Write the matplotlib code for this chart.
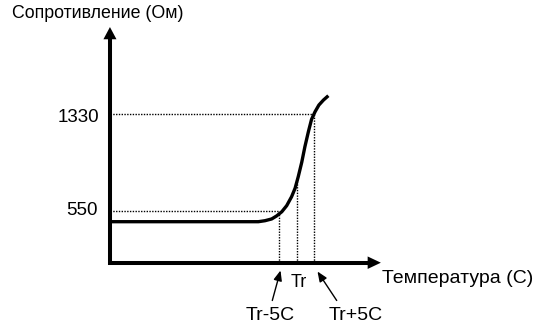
import numpy as np
import matplotlib
matplotlib.use('Agg')
import matplotlib.pyplot as plt

# Curve: temperature relative to Tr (C), resistance (Ohm)
temp = [-53.3, -14.7, -10.9, -9.0, -7.1, -5.7, -4.2, -2.8, -1.4, -0.4,
        0.5, 1.5, 2.4, 3.4, 4.3, 5.3, 6.4, 7.7, 9.1]
resist = [464, 464, 464, 472, 486, 510, 544, 593, 665, 733,
          826, 942, 1067, 1188, 1287, 1348, 1402, 1442, 1477]

# marked levels
r_ticks = [550, 1330]
r_tick_labels = ['550', '1330']
t_marks = [-5, 0, 5]
r_at_marks = [550, 786, 1330]

W, H = 544, 325
plt.rcParams['font.family'] = ['Liberation Sans', 'DejaVu Sans']

fig = plt.figure(figsize=(W / 100, H / 100), dpi=100)
ax = fig.add_axes([0, 0, 1, 1])

# schematic scale: 3.5 px per degree, Tr at x=296.5 px; 550 Ohm at y=211 px, 8.04 Ohm per px
ax.set_xlim(-296.5 / 3.5, (W - 296.5) / 3.5)
ax.set_ylim(550 - (H - 211) * 8.04, 550 + 211 * 8.04)
ax.axis('off')

t0, r0 = -53.3, 134.3      # axis origin
t_end, r_end = 24.1, 2029  # arrow tips

# axes with arrow heads
ax.plot([t0, t0, t_end - 3.0], [r_end - 80, r0, r0], color='k', lw=2.9,
        solid_joinstyle='miter', solid_capstyle='butt')
ax.annotate('', xy=(t_end, r0), xytext=(t_end - 4, r0),
            arrowprops=dict(arrowstyle='-|>,head_length=0.95,head_width=0.45',
                            mutation_scale=10, lw=0, color='k', shrinkA=0, shrinkB=0))
ax.annotate('', xy=(t0, r_end), xytext=(t0, r_end - 100),
            arrowprops=dict(arrowstyle='-|>,head_length=0.88,head_width=0.47',
                            mutation_scale=10, lw=0, color='k', shrinkA=0, shrinkB=0))

# dotted guides
dot = dict(color='k', lw=1.0, linestyle=(0, (1, 1)))
ax.plot([t0, t_marks[0]], [r_ticks[0], r_ticks[0]], **dot)
ax.plot([t0, t_marks[2]], [r_ticks[1], r_ticks[1]], **dot)
for t, r in zip(t_marks, r_at_marks):
    ax.plot([t, t], [r0, r], **dot)

# curve
ax.plot(temp, resist, color='k', lw=2.4, solid_capstyle='butt')


def px(x, y):
    return x / W, 1 - y / H


fig.text(*px(98, 18.5), 'Сопротивление (Ом)', fontsize=12.8, ha='center', va='baseline')
fig.text(*px(99.5, 121.7), r_tick_labels[1], fontsize=13.5, ha='right', va='baseline')
fig.text(*px(97.5, 215), r_tick_labels[0], fontsize=13.5, ha='right', va='baseline')
fig.text(*px(458, 283.3), 'Температура (С)', fontsize=14, ha='center', va='baseline')
fig.text(*px(298.7, 287.3), 'Tr', fontsize=13, ha='center', va='baseline')
fig.text(*px(270.5, 320), 'Tr-5C', fontsize=14, ha='center', va='baseline')
fig.text(*px(355.7, 320), 'Tr+5C', fontsize=14, ha='center', va='baseline')

small = dict(arrowstyle='-|>,head_length=0.6,head_width=0.25', mutation_scale=10,
             lw=1.0, color='k', shrinkA=0, shrinkB=0)
ax.annotate('', xy=px(280.5, 270.5), xycoords='figure fraction',
            xytext=px(272.3, 300.5), textcoords='figure fraction', arrowprops=small)
ax.annotate('', xy=px(317.5, 271.5), xycoords='figure fraction',
            xytext=px(336.7, 300.5), textcoords='figure fraction', arrowprops=small)

fig.savefig('out.png', dpi=100, facecolor='white')
